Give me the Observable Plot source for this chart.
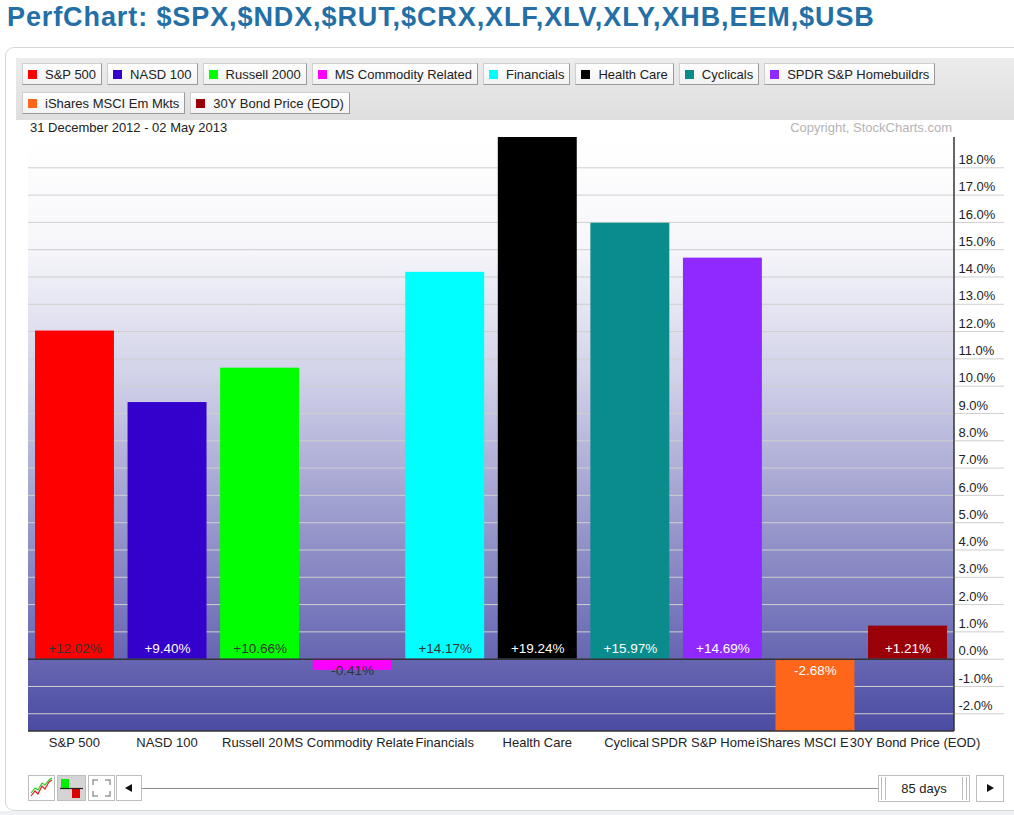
<!DOCTYPE html>
<html>
<head>
<meta charset="utf-8">
<script src="https://cdn.jsdelivr.net/npm/d3@7"></script>
<script src="https://cdn.jsdelivr.net/npm/@observablehq/plot@0.6"></script>
<style>
  html, body { margin: 0; padding: 0; background: #fff; width: 1014px; height: 815px; overflow: hidden; }
  body { position: relative; font-family: Arial, "Liberation Sans", sans-serif; color: #222; }
  #title { position: absolute; left: 7px; top: 2px; font-size: 27px; font-weight: bold; color: #236fa6; white-space: nowrap; letter-spacing: 0.9px; }
  #panel { position: absolute; left: 5px; top: 47px; width: 1030px; height: 764px; border: 1px solid #d6d6d6; border-radius: 9px; background: #fff; box-sizing: border-box; }
  #bottomshade { position: absolute; left: 0; top: 811px; width: 1014px; height: 4px; background: #eef0f3; }
  #legend { position: absolute; left: 16px; top: 58px; width: 998px; height: 62px; box-sizing: border-box; padding: 5px 6px; display: flex; flex-wrap: wrap; gap: 7px 5px; align-content: flex-start; background: linear-gradient(#ececec, #dedede); }
  .btn { height: 22px; box-sizing: border-box; display: flex; align-items: center; padding: 0 5px 0 5px; font-size: 13px; color: #222; background: linear-gradient(#ffffff, #f2f2f2); border: 1px solid #cfcfcf; border-right-color: #9a9a9a; border-bottom-color: #9a9a9a; white-space: nowrap; }
  .sw { width: 9px; height: 9px; margin-right: 8px; }
  #chart { position: absolute; left: 16px; top: 120px; }
  #date { position: absolute; left: 30px; top: 120px; font-size: 13px; color: #222; }
  #copy { position: absolute; right: 62px; top: 120px; font-size: 13px; color: #b4b4b4; }
  .tb { position: absolute; top: 775px; height: 26px; box-sizing: border-box; border: 1px solid #bdbdbd; background: #fff; }
  #slider { position: absolute; left: 142px; top: 788px; width: 737px; height: 1px; background: #8a8a8a; }
  #days { position: absolute; left: 878px; top: 775px; width: 92px; height: 27px; box-sizing: border-box; border: 1px solid #bdbdbd; font-size: 13px; text-align: center; line-height: 25px; color: #222; background: #fff; }
  #days:before, #days:after { content: ""; position: absolute; top: 1px; bottom: 1px; width: 3px; border-left: 1px solid #bbb; border-right: 1px solid #bbb; }
  #days:before { left: 2px; } #days:after { right: 2px; }
</style>
</head>
<body>
<div id="title">PerfChart: $SPX,$NDX,$RUT,$CRX,XLF,XLV,XLY,XHB,EEM,$USB</div>
<div id="panel"></div>
<div id="bottomshade"></div>
<div id="legend"></div>
<div id="chart"></div>
<div id="date"></div>
<div id="copy">Copyright, StockCharts.com</div>

<div class="tb" style="left:28px;width:27px;">
  <svg width="25" height="24"><polyline points="2,20 6,15 9,18 13,10 16,13 20,6 23,4" fill="none" stroke="#e02020" stroke-width="1.2"/><polyline points="2,17 6,12 9,14 13,7 16,9 20,4 23,2" fill="none" stroke="#22cc22" stroke-width="1.2"/></svg>
</div>
<div class="tb" style="left:57px;width:29px;background:#d4d4d4;">
  <svg width="27" height="24"><rect x="3" y="3" width="8" height="9" fill="#00ee00"/><rect x="14" y="13" width="8" height="9" fill="#dd0000"/><line x1="2" y1="12.5" x2="25" y2="12.5" stroke="#222" stroke-width="1.2"/></svg>
</div>
<div class="tb" style="left:88px;width:27px;">
  <svg width="25" height="24" fill="none" stroke="#999" stroke-width="1.5"><polyline points="4,9 4,4 9,4"/><polyline points="16,4 21,4 21,9"/><polyline points="4,15 4,20 9,20"/><polyline points="16,20 21,20 21,15"/></svg>
</div>
<div class="tb" style="left:116px;width:26px;">
  <svg width="24" height="24"><polygon points="8,12 15,8 15,16" fill="#111"/></svg>
</div>
<div id="slider"></div>
<div id="days">85 days</div>
<div class="tb" style="left:976px;width:28px;height:27px;">
  <svg width="26" height="25"><polygon points="17,12 10,8 10,16" fill="#111"/></svg>
</div>

<script>
// ---- data ----
const names = ["S&P 500", "NASD 100", "Russell 2000", "MS Commodity Related", "Financials", "Health Care", "Cyclicals", "SPDR S&P Homebuildrs", "iShares MSCI Em Mkts", "30Y Bond Price (EOD)"];
// axis labels as they remain visible (each label is cut where the next one starts)
const axisLabels = ["S&P 500", "NASD 100", "Russell 20", "MS Commodity Relate", "Financials", "Health Care", "Cyclical", "SPDR S&P Home", "iShares MSCI E", "30Y Bond Price (EOD)"];
const values = [12.02, 9.40, 10.66, -0.41, 14.17, 19.24, 15.97, 14.69, -2.68, 1.21];
const colors = ["#ff0000", "#3300cc", "#00ff00", "#ff00ff", "#00ffff", "#000000", "#0a8c8c", "#9029ff", "#ff6619", "#990008"];
const labelColors = ["#333333", "#ffffff", "#333333", "#333333", "#333333", "#ffffff", "#ffffff", "#ffffff", "#ffffff", "#ffffff"];
const yTicks = [-2, -1, 0, 1, 2, 3, 4, 5, 6, 7, 8, 9, 10, 11, 12, 13, 14, 15, 16, 17, 18];
const dateRange = "31 December 2012 - 02 May 2013";

const FONT = "Arial, 'Liberation Sans', sans-serif";

// ---- legend ----
const legend = document.getElementById("legend");
names.forEach((n, i) => {
  const b = document.createElement("div");
  b.className = "btn";
  const s = document.createElement("span");
  s.className = "sw";
  s.style.background = colors[i];
  b.appendChild(s);
  b.appendChild(document.createTextNode(n));
  legend.appendChild(b);
});
document.getElementById("date").textContent = dateRange;

const data = names.map((n, i) => ({name: n, label: axisLabels[i], value: values[i], color: colors[i], tcolor: labelColors[i]}));
const fmt = v => (v > 0 ? "+" : "") + v.toFixed(2) + "%";

const ctx = document.createElement("canvas").getContext("2d");
ctx.font = "13px " + FONT;
const measure = s => ctx.measureText(s).width;

// background gradient, placed by the plot's dimensions
function background(index, scales, values, dimensions) {
  const {width, height, marginTop, marginRight, marginBottom, marginLeft} = dimensions;
  const g = d3.create("svg:g");
  const grad = g.append("defs").append("linearGradient").attr("id", "bg").attr("x1", 0).attr("y1", 0).attr("x2", 0).attr("y2", 1);
  [[0, "#ffffff"], [0.18, "#f7f7fb"], [0.4, "#d2d2e9"], [0.6, "#a4a4d2"], [0.8, "#7878bc"], [1, "#4b4ba2"]]
    .forEach(([o, c]) => grad.append("stop").attr("offset", o).attr("stop-color", c));
  g.append("rect").attr("x", marginLeft).attr("y", marginTop)
    .attr("width", width - marginLeft - marginRight).attr("height", height - marginTop - marginBottom)
    .attr("fill", "url(#bg)");
  return g.node();
}
function borders(index, scales, values, dimensions) {
  const {width, height, marginTop, marginRight, marginBottom, marginLeft} = dimensions;
  const g = d3.create("svg:g").attr("stroke", "#333").attr("stroke-width", 1.5);
  g.append("line").attr("x1", width - marginRight).attr("x2", width - marginRight).attr("y1", marginTop).attr("y2", height - marginBottom);
  g.append("line").attr("x1", marginLeft).attr("x2", width - marginRight).attr("y1", height - marginBottom).attr("y2", height - marginBottom);
  return g.node();
}
// category labels: each centred on its band with its full width; a label starts no earlier than the previous one ends
function xLabels(index, scales, values, dimensions) {
  const {height, marginBottom} = dimensions;
  const bw = scales.x.bandwidth ? scales.x.bandwidth() : 0;
  const g = d3.create("svg:g").attr("font-family", FONT).attr("font-size", 13).attr("fill", "#222").attr("text-anchor", "start");
  let prevEnd = -Infinity;
  data.forEach(d => {
    const c = scales.x(d.name) + bw / 2;
    const start = Math.max(c - measure(d.name) / 2, prevEnd);
    g.append("text").attr("x", start).attr("y", height - marginBottom + 11).attr("dy", "0.35em").attr("text-anchor", "start").text(d.label);
    prevEnd = start + measure(d.label) + 1;
  });
  return g.node();
}

const chart = Plot.plot({
  width: 998,
  height: 640,
  marginLeft: 12,
  marginRight: 60,
  marginTop: 17,
  marginBottom: 29,
  style: {fontFamily: FONT, fontSize: "13px", background: "white", color: "#222"},
  x: {domain: names, paddingInner: 0.147, paddingOuter: 0.0756, round: false, label: null, axis: null},
  y: {domain: [-2.65, 19.11], label: null, axis: null},
  color: {type: "identity"},
  marks: [
    background,
    Plot.ruleY(yTicks.filter(t => t !== 0), {stroke: "#cfcfcf", strokeWidth: 1}),
    Plot.axisY(yTicks, {anchor: "right", tickSize: 49, tickFormat: () => "", stroke: "#cfcfcf", label: null}),
    Plot.axisY(yTicks, {anchor: "right", tickSize: 0, tickPadding: 4, dy: -8, tickFormat: d => d.toFixed(1) + "%", fill: "#222", fontSize: 13, label: null}),
    Plot.barY(data, {x: "name", y: "value", fill: "color", clip: true}),
    Plot.ruleY([0], {stroke: "#333", strokeWidth: 1.5}),
    borders,
    Plot.text(data.filter(d => d.value >= 0), {x: "name", y: 0, text: d => fmt(d.value), fill: "tcolor", dy: -10, fontSize: 13.5}),
    Plot.text(data.filter(d => d.value < 0), {x: "name", y: 0, text: d => fmt(d.value), fill: "tcolor", dy: 12, fontSize: 13.5}),
    xLabels
  ]
});
document.getElementById("chart").appendChild(chart);
</script>
</body>
</html>
